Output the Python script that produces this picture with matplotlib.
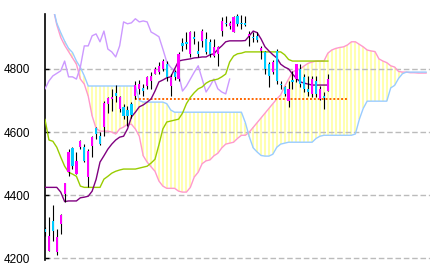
import matplotlib
matplotlib.use("Agg")
import matplotlib.pyplot as plt
import numpy as np

# candles (magenta = up, cyan = down)
opens = [4292, 4225, 4317, 4219, 4308, 4403, 4473, 4549, 4467, 4552,
         4552, 4457, 4556, 4613, 4587, 4616, 4689, 4705, 4724, 4673,
         4679, 4670, 4689, 4714, 4737, 4740, 4746, 4762, 4784, 4790,
         4800, 4816, 4746, 4790, 4768, 4883, 4886, 4848, 4900, 4857,
         4889, 4895, 4886, 4841, 4848, 4920, 4946, 4936, 4917, 4968,
         4946, 4946, 4905, 4900, 4905, 4857, 4854, 4816, 4790, 4857,
         4752, 4743, 4698, 4765, 4768, 4800, 4775, 4737, 4721, 4762,
         4705, 4714, 4730]
highs = [4300, 4330, 4368, 4292, 4340, 4440, 4546, 4552, 4537, 4575,
         4562, 4546, 4587, 4617, 4600, 4698, 4711, 4737, 4749, 4714,
         4689, 4683, 4695, 4762, 4765, 4752, 4778, 4790, 4806, 4822,
         4832, 4825, 4784, 4797, 4854, 4898, 4917, 4920, 4920, 4889,
         4927, 4917, 4895, 4895, 4873, 4965, 4968, 4952, 4968, 4974,
         4971, 4968, 4920, 4917, 4917, 4873, 4857, 4822, 4829, 4863,
         4762, 4746, 4762, 4794, 4816, 4816, 4784, 4778, 4778, 4778,
         4746, 4727, 4784]
lows = [4272, 4222, 4254, 4210, 4276, 4378, 4460, 4483, 4467, 4548,
        4505, 4425, 4520, 4578, 4560, 4587, 4660, 4667, 4695, 4663,
        4641, 4619, 4645, 4705, 4720, 4714, 4737, 4737, 4784, 4784,
        4794, 4762, 4714, 4765, 4762, 4857, 4863, 4838, 4879, 4838,
        4870, 4848, 4838, 4838, 4810, 4905, 4936, 4927, 4917, 4936,
        4927, 4936, 4873, 4886, 4886, 4832, 4784, 4743, 4784, 4752,
        4737, 4714, 4679, 4737, 4759, 4743, 4727, 4714, 4711, 4711,
        4702, 4673, 4730]
closes = [4284, 4270, 4286, 4267, 4337, 4438, 4536, 4492, 4508, 4571,
          4508, 4540, 4584, 4594, 4562, 4692, 4708, 4711, 4714, 4711,
          4651, 4650, 4655, 4749, 4752, 4730, 4775, 4778, 4800, 4810,
          4825, 4775, 4775, 4775, 4848, 4873, 4880, 4917, 4895, 4848,
          4920, 4854, 4848, 4870, 4870, 4952, 4943, 4946, 4965, 4943,
          4943, 4940, 4911, 4898, 4892, 4867, 4800, 4778, 4822, 4762,
          4749, 4721, 4737, 4760, 4816, 4752, 4737, 4727, 4768, 4721,
          4737, 4708, 4768]

# conversion line (purple) and base line (green)
tenkan = [4425, 4425, 4425, 4425, 4410, 4380, 4382, 4382, 4382, 4392,
          4394, 4397, 4413, 4450, 4505, 4525, 4546, 4562, 4575, 4584,
          4587, 4610, 4648, 4663, 4680, 4686, 4695, 4705, 4730, 4759,
          4765, 4772, 4775, 4800, 4825, 4828, 4830, 4832, 4835, 4836,
          4838, 4838, 4845, 4848, 4862, 4873, 4886, 4889, 4889, 4889,
          4889, 4890, 4905, 4920, 4915, 4895, 4870, 4857, 4845, 4835,
          4815, 4806, 4800, 4784, 4770, 4759, 4755, 4752, 4749, 4749,
          4749, 4749, 4749]
kijun = [4640, 4575, 4571, 4552, 4521, 4492, 4473, 4467, 4460, 4429,
         4425, 4425, 4425, 4425, 4425, 4451, 4460, 4470, 4476, 4480,
         4483, 4483, 4483, 4483, 4486, 4489, 4492, 4502, 4514, 4560,
         4610, 4632, 4635, 4638, 4641, 4660, 4690, 4710, 4725, 4737,
         4743, 4755, 4762, 4765, 4768, 4775, 4784, 4822, 4841, 4848,
         4850, 4854, 4854, 4854, 4854, 4854, 4854, 4854, 4854, 4854,
         4854, 4845, 4830, 4825, 4825, 4825, 4825, 4825, 4825, 4825,
         4825, 4825, 4825]

# lagging span (lavender), starts at the left edge
chikou = [4737, 4762, 4778, 4786, 4794, 4825, 4775, 4775, 4768, 4806,
          4873, 4873, 4905, 4911, 4886, 4920, 4863, 4854, 4838, 4873,
          4949, 4943, 4946, 4959, 4949, 4952, 4949, 4917, 4910, 4902,
          4863, 4822, 4805, 4794, 4784, 4730, 4746, 4768, 4790, 4810,
          4768, 4727, 4746, 4768, 4737, 4727, 4721, 4768]

# leading spans (cloud)
span_pink = [5120, 5060, 4995, 4940, 4900, 4875, 4855, 4835, 4815, 4768,
             4752, 4714, 4651, 4612, 4603, 4603, 4603, 4600, 4594, 4610,
             4616, 4625, 4625, 4610, 4587, 4525, 4505, 4490, 4476, 4445,
             4429, 4422, 4422, 4422, 4413, 4410, 4410, 4425, 4458, 4473,
             4500, 4509, 4512, 4525, 4533, 4550, 4562, 4565, 4568, 4580,
             4590, 4590, 4600, 4615, 4630, 4645, 4660, 4675, 4690, 4705,
             4718, 4745, 4768, 4790, 4797, 4800, 4810, 4818, 4822, 4825,
             4825, 4825, 4850, 4860, 4865, 4868, 4870, 4876, 4886, 4886,
             4878, 4870, 4860, 4857, 4855, 4832, 4825, 4820, 4810, 4806,
             4792, 4790, 4790, 4788, 4788, 4787, 4787, 4787]
span_blue = [5120, 5060, 4998, 4945, 4915, 4888, 4865, 4852, 4825, 4805,
             4778, 4746, 4746, 4746, 4746, 4746, 4746, 4746, 4746, 4746,
             4746, 4746, 4746, 4746, 4700, 4695, 4695, 4695, 4695, 4695,
             4695, 4690, 4670, 4663, 4663, 4663, 4663, 4663, 4663, 4663,
             4663, 4663, 4663, 4663, 4663, 4663, 4663, 4663, 4663, 4663,
             4663, 4630, 4585, 4550, 4537, 4526, 4524, 4524, 4530, 4552,
             4562, 4565, 4568, 4568, 4568, 4568, 4568, 4568, 4568, 4580,
             4587, 4590, 4590, 4590, 4590, 4590, 4590, 4590, 4590, 4594,
             4640, 4675, 4698, 4698, 4698, 4698, 4698, 4698, 4740, 4748,
             4770, 4785, 4790, 4790, 4790, 4790, 4790, 4790]

# orange dotted level
level_value = 4705
level_start, level_end = 23, 77

yticks = [4200, 4400, 4600, 4800]

fig = plt.figure(figsize=(4.35, 2.73), dpi=100)
ax = fig.add_axes([45 / 435, 13 / 273, 385 / 435, 246 / 273])

# cloud as pale yellow vertical stripes
k = np.arange(len(span_pink))
lo = np.minimum(span_pink, span_blue)
hi = np.maximum(span_pink, span_blue)
ax.vlines(k, lo, hi, colors="#FFFF99", lw=1.1, zorder=1)
ax.plot(k, span_pink, color="#FF99CC", lw=1, zorder=2)
ax.plot(k, span_blue, color="#99CCFF", lw=1, zorder=2)

# grid
for yv in yticks:
    ax.axhline(yv, color="#BBBBBB", lw=1, ls=(0, (4, 2)), zorder=1.5)

ax.hlines(level_value, level_start, level_end, colors="#FF6600",
          lw=1.4, linestyles=(0, (1, 1)), zorder=2.5)

ax.plot(np.arange(len(chikou)), chikou, color="#CC99FF", lw=1, zorder=3)
ax.plot(np.arange(len(kijun)), kijun, color="#99CC00", lw=1, zorder=3)
ax.plot(np.arange(len(tenkan)), tenkan, color="#800080", lw=1, zorder=3.2)

# candles
o = np.array(opens); c = np.array(closes)
i = np.arange(len(o))
ax.vlines(i, lows, highs, colors="black", lw=0.8, zorder=4)
up = c >= o
colors = np.where(up, "#FF00FF", "#00CCFF")
bottom = np.minimum(o, c)
height = np.maximum(np.abs(c - o), 3)
ax.bar(i, height, bottom=bottom, width=0.55, color=colors, zorder=5)

ax.set_xlim(0, 98)
ax.set_ylim(4195, 4974)
for s in ["top", "right", "bottom"]:
    ax.spines[s].set_visible(False)
ax.spines["left"].set_linewidth(1.2)
ax.set_xticks([])
ax.set_yticks(yticks)
ax.set_yticklabels([str(v) for v in yticks], family="Liberation Sans")
ax.tick_params(axis="y", direction="in", length=3, width=1, pad=10.5,
               labelsize=8.5)

fig.savefig("out.png", dpi=100)
